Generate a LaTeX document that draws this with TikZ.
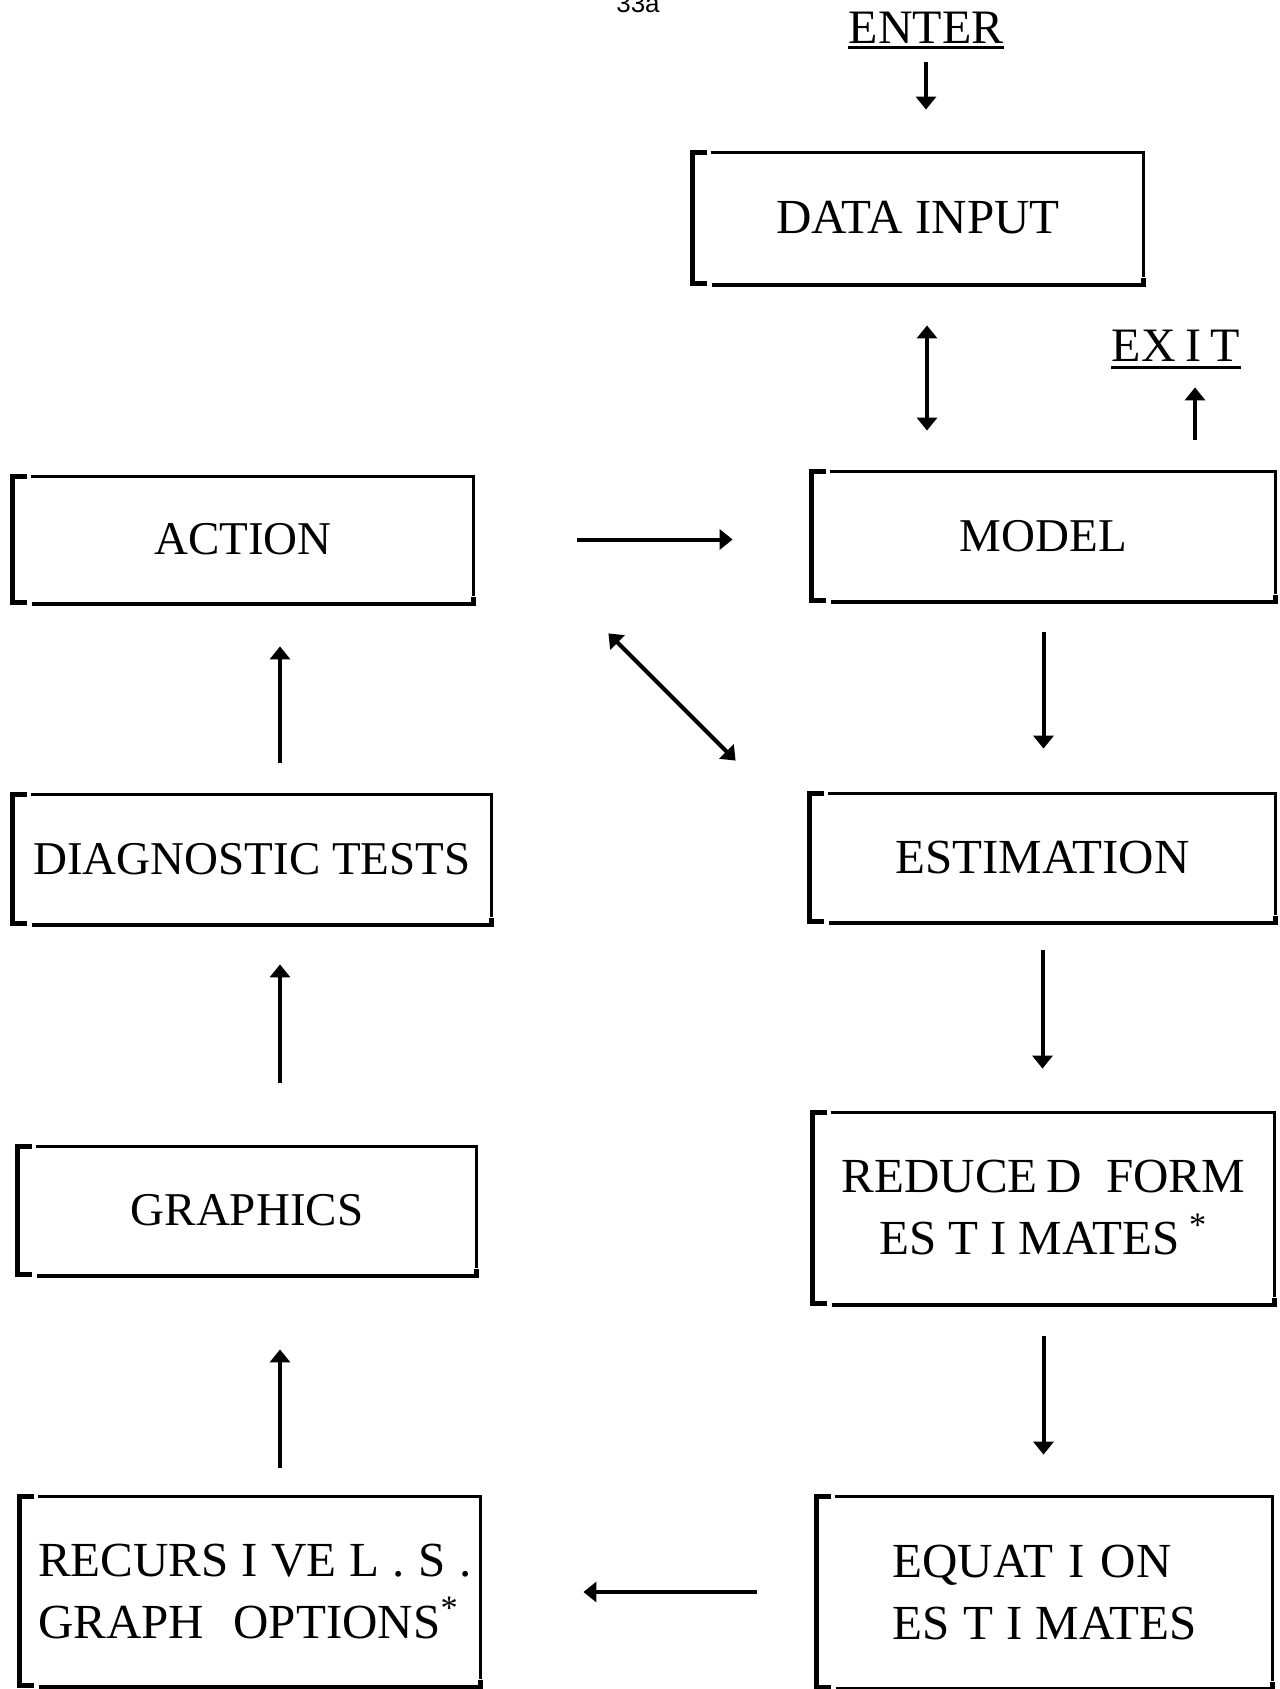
\documentclass[tikz,border=0pt]{standalone}
\usepackage{fontspec}
\setmainfont{Liberation Serif}
\newfontfamily\pagenumfont{Liberation Sans}
\usetikzlibrary{arrows.meta,calc}

% extra gaps used in the letter-spaced labels
\newcommand\gapx{\hspace{0.27em}}
\newcommand\gapn{\hspace{0.24em}}
\newcommand\gapw{\hspace{0.32em}}

% bracket-like frame drawn round a named box node
\newcommand\drawframe[1]{%
  \draw[frameL] ([xshift=7pt]#1.north west) -- (#1.north west) -- (#1.south west) -- ([xshift=7pt]#1.south west);
  \draw[frameT] ([xshift=9pt]#1.north west) -- ([xshift=0.8pt]#1.north east);
  \draw[frameR] (#1.north east) -- ([yshift=3pt]#1.south east);
  \draw[frameB] ([xshift=9.5pt,yshift=-0.8pt]#1.south west) -- ([yshift=-0.8pt]#1.south east) -- ([yshift=2.5pt]#1.south east);
}

\tikzset{
  box/.style={rectangle, draw=none, inner sep=0pt, align=center,
    font=\fontsize{23.5}{28}\selectfont},
  boxtwo/.style={rectangle, draw=none, inner sep=0pt,
    font=\fontsize{24.5}{31}\selectfont},
  lbl/.style={inner sep=0pt, font=\fontsize{24}{28}\selectfont},
  frameL/.style={line width=2.2pt, line join=miter},
  frameT/.style={line width=1.8pt},
  frameR/.style={line width=1.6pt},
  frameB/.style={line width=2.1pt, line join=miter},
  uline/.style={line width=1.5pt},
  arr/.style={line width=2pt, -{Triangle[length=6.5pt,width=10pt]}},
  dblarr/.style={line width=2pt, {Triangle[length=6.5pt,width=10pt]}-{Triangle[length=6.5pt,width=10pt]}},
}

\begin{document}
\begin{tikzpicture}[x=0.5pt,y=-0.5pt]
\fill[white] (0,0) rectangle (1279,1689);
\clip (0,0) rectangle (1279,1689);

% page number at the top edge
\node[inner sep=0pt, anchor=base, font=\pagenumfont\fontsize{13}{15}\selectfont] (pnum) at (638,13) {33a};

% entry and exit labels
\node[lbl, anchor=base] (enter) at (926,44) {ENTER};
\draw[uline] ([yshift=-2pt]enter.base west) -- ([yshift=-2pt]enter.base east);
\node[lbl, anchor=base] (exit) at (1176,362) {EX\hspace{0.2em}I\hspace{0.2em}T};
\draw[uline] ([yshift=-3pt]exit.base west) -- ([yshift=-3pt]exit.base east);

% boxes
\node[box, minimum width=225pt, minimum height=65pt, font=\fontsize{24.5}{28}\selectfont] (data) at (918,218) {DATA INPUT};
\node[box, minimum width=230pt, minimum height=62.5pt] (action) at (243,539.5) {ACTION};
\node[box, minimum width=231.5pt, minimum height=64pt] (model) at (1043.5,536) {MODEL};
\node[box, minimum width=239pt, minimum height=64pt] (diag) at (252,859) {DIAGNOSTIC TESTS};
\node[box, minimum width=232.5pt, minimum height=63.5pt, font=\fontsize{24.5}{28}\selectfont] (estim) at (1042.5,857.5) {ESTIMATION};
\node[box, minimum width=229pt, minimum height=63.5pt] (graph) at (247,1210.5) {GRAPHICS};
\node[boxtwo, align=center, minimum width=230.5pt, minimum height=95pt] (reduced) at (1043.5,1208)
  {REDUCE\hspace{0.18em}D\hspace{0.5em}FORM\\ES\gapn T\gapn I\gapn MATES\hspace{0.2em}\textsuperscript{*}};
\node[boxtwo, align=left, minimum width=230pt, minimum height=94pt] (recur) at (250,1591)
  {\hspace*{5pt}RECURS\gapx I\gapx VE L\hspace{0.28em}.\hspace{0.28em}S\hspace{0.28em}.\\
   \hspace*{5pt}GRAPH\hspace{0.6em}OPTIONS\textsuperscript{*}};
\node[boxtwo, align=left, minimum width=227.5pt, minimum height=95pt] (equation) at (1044.5,1592)
  {EQUAT\gapw I\gapw ON\\ES\gapx T\gapx I\gapx MATES};

\foreach \n in {data,action,model,diag,estim,graph,reduced,recur,equation} {\drawframe{\n}}

% arrow columns
\coordinate (lcol) at (280,0);
\coordinate (dcol) at (927,0);
\coordinate (xcol) at (1195,0);

% connectors
\draw[arr, shorten <=9pt, shorten >=21.5pt] (enter.south) -- (enter.south |- data.north);
\draw[dblarr, shorten <=21pt, shorten >=20.5pt] (data.south -| dcol) -- (model.north -| dcol);
\draw[arr, shorten <=16pt, shorten >=12.5pt] (model.north -| xcol) -- (exit.south -| xcol);
\draw[arr, shorten <=52pt, shorten >=39.5pt] (action.east) -- (model.west |- action.east);
\coordinate (d1) at ($(action.south east)+(135,31)$);
\coordinate (d2) at ($(estim.north west)+(-74,-33)$);
\draw[dblarr] (d1) -- (d2);
\draw[arr, shorten <=16pt, shorten >=22.5pt] (model.south) -- (model.south |- estim.north);
\draw[arr, shorten <=14.5pt, shorten >=22pt] (estim.south) -- (estim.south |- reduced.north);
\draw[arr, shorten <=16.5pt, shorten >=21pt] (reduced.south) -- (reduced.south |- equation.north);
\draw[arr, shorten <=30pt, shorten >=51.5pt] (equation.west) -- (recur.east |- equation.west);
\draw[arr, shorten <=14.5pt, shorten >=37.5pt] (recur.north -| lcol) -- (graph.south -| lcol);
\draw[arr, shorten <=32pt, shorten >=20.5pt] (graph.north -| lcol) -- (diag.south -| lcol);
\draw[arr, shorten <=16pt, shorten >=22pt] (diag.north -| lcol) -- (action.south -| lcol);
\end{tikzpicture}
\end{document}
